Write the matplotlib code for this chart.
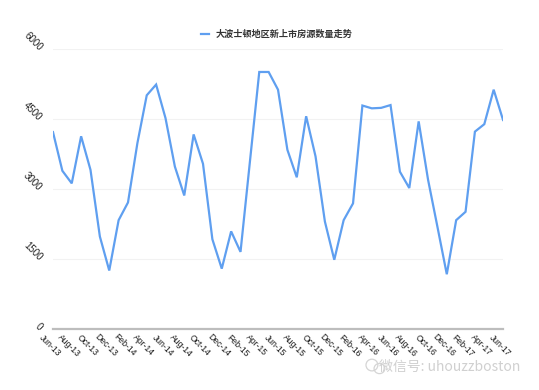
import matplotlib
matplotlib.use("Agg")
import matplotlib.pyplot as plt
import matplotlib.transforms as mtransforms
from matplotlib.patches import Ellipse
import numpy as np

months = ["Jun-13","Jul-13","Aug-13","Sep-13","Oct-13","Nov-13","Dec-13","Jan-14","Feb-14","Mar-14",
          "Apr-14","May-14","Jun-14","Jul-14","Aug-14","Sep-14","Oct-14","Nov-14","Dec-14","Jan-15",
          "Feb-15","Mar-15","Apr-15","May-15","Jun-15","Jul-15","Aug-15","Sep-15","Oct-15","Nov-15",
          "Dec-15","Jan-16","Feb-16","Mar-16","Apr-16","May-16","Jun-16","Jul-16","Aug-16","Sep-16",
          "Oct-16","Nov-16","Dec-16","Jan-17","Feb-17","Mar-17","Apr-17","May-17","Jun-17"]
listings = [4220, 3390, 3120, 4130, 3410, 1980, 1250, 2330, 2710, 3980,
            5010, 5240, 4520, 3480, 2860, 4170, 3540, 1920, 1290, 2090,
            1650, 3580, 5510, 5510, 5130, 3840, 3250, 4560, 3700, 2300,
            1480, 2330, 2690, 4790, 4730, 4740, 4800, 3370, 3020, 4450,
            3200, 2190, 1170, 2330, 2510, 4230, 4390, 5130, 4480]
yticks = [0, 1500, 3000, 4500, 6000]
series_name = "大波士顿地区新上市房源数量走势"

plt.rcParams['font.family'] = ['Liberation Sans', 'DejaVu Sans']

fig = plt.figure(figsize=(5.39, 3.90), dpi=100)
ax = fig.add_axes([0.0983, 0.157, 0.835, 0.717])

x = np.arange(len(listings))
ax.plot(x, listings, color='#5f9ff0', lw=1.6, solid_joinstyle='miter', label=series_name)

ax.set_xlim(0, len(listings) - 1)
ax.set_ylim(0, 6000)
ax.set_yticks(yticks)
ax.set_yticklabels([str(v) for v in yticks], rotation=-45, fontsize=7, color='#222222',
                   ha='right', va='center', rotation_mode='anchor')
ax.set_xticks(x[::2])
ax.set_xticklabels(months[::2], rotation=-45, fontsize=6.2, color='#1a1a1a',
                   ha='center', va='center', rotation_mode='anchor')
ax.tick_params(axis='both', length=0)
ax.tick_params(axis='y', pad=9)
ax.tick_params(axis='x', pad=12)
shift = mtransforms.ScaledTranslation(-3/100, 0, fig.dpi_scale_trans)
for lbl in ax.get_xticklabels():
    lbl.set_transform(lbl.get_transform() + shift)

for s in ['top', 'right', 'left']:
    ax.spines[s].set_visible(False)
ax.spines['bottom'].set_color('#bdbdbd')
ax.spines['bottom'].set_linewidth(1.6)
ax.yaxis.grid(True, color='#f2f2f2', lw=0.8)
ax.set_axisbelow(True)

leg = fig.legend(loc='center', bbox_to_anchor=(0.513, 0.912), frameon=False,
                 prop={'family': ['Noto Sans CJK SC', 'DejaVu Sans'], 'size': 6.6, 'weight': 'bold'},
                 handlelength=0.9, handletextpad=0.7)
for t in leg.get_texts():
    t.set_color('#333333')

# watermark
fig.text(0.965, 0.06, "微信号: uhouzzboston", ha='right', va='center', fontsize=10,
         color='#d0d0d0', family=['Noto Sans CJK SC', 'DejaVu Sans'])
fig.patches.append(Ellipse((0.690, 0.064), 0.022, 0.030, transform=fig.transFigure,
                           fill=False, ec='#d5d5d5', lw=0.9))
fig.patches.append(Ellipse((0.704, 0.055), 0.020, 0.026, transform=fig.transFigure,
                           fill=False, ec='#d5d5d5', lw=0.9))

fig.savefig("out.png", dpi=100, facecolor='white')
